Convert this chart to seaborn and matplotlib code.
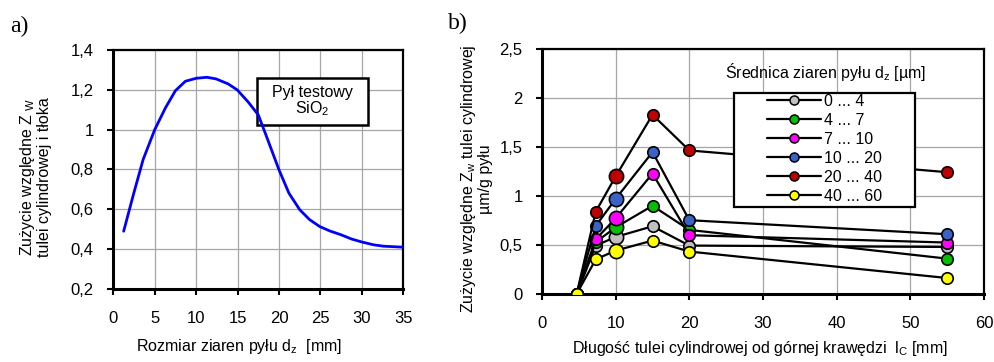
import numpy as np
import pandas as pd
import matplotlib
matplotlib.use("Agg")
import matplotlib.pyplot as plt
from matplotlib.lines import Line2D
from matplotlib.patches import Rectangle
import seaborn as sns

# ---------------- data ----------------
# panel a) relative wear vs grain size
grain_size = [1.25, 2.4, 3.6, 5.0, 6.3, 7.5, 8.7, 10.0, 11.3, 12.4, 13.85, 14.95,
              16.3, 17.5, 18.5, 20.0, 21.2, 22.5, 23.7, 24.9, 26.1, 27.5, 28.75,
              30.0, 31.4, 32.6, 35.0]
wear_a = [0.49, 0.67, 0.85, 1.00, 1.11, 1.196, 1.243, 1.258, 1.263, 1.255, 1.23,
          1.20, 1.138, 1.074, 0.965, 0.798, 0.681, 0.598, 0.548, 0.514, 0.492,
          0.472, 0.451, 0.436, 0.422, 0.415, 0.41]
a_xticks = [0, 5, 10, 15, 20, 25, 30, 35]
a_yticks = [0.2, 0.4, 0.6, 0.8, 1.0, 1.2, 1.4]
a_yticklabels = ["0,2", "0,4", "0,6", "0,8", "1", "1,2", "1,4"]

# panel b) relative wear vs distance from top edge
length_lc = [4.7, 7.3, 10, 15, 20, 55]
series_labels = ["0 ... 4", "4 ... 7", "7 ... 10", "10 ... 20", "20 ... 40", "40 ... 60"]
wear_0_4 = [0.0, 0.494, 0.582, 0.691, 0.494, 0.48]
wear_4_7 = [0.0, 0.53, 0.68, 0.90, 0.654, 0.361]
wear_7_10 = [0.0, 0.559, 0.773, 1.229, 0.60, 0.525]
wear_10_20 = [0.0, 0.695, 0.971, 1.448, 0.753, 0.61]
wear_20_40 = [0.0, 0.841, 1.20, 1.829, 1.465, 1.243]
wear_40_60 = [0.0, 0.354, 0.443, 0.545, 0.433, 0.163]
b_xticks = [0, 10, 20, 30, 40, 50, 60]
b_yticks = [0, 0.5, 1.0, 1.5, 2.0, 2.5]
b_yticklabels = ["0", "0,5", "1", "1,5", "2", "2,5"]

series_values = [wear_0_4, wear_4_7, wear_7_10, wear_10_20, wear_20_40, wear_40_60]
series_colors = ["#c0c0c0", "#00c000", "#ff00ff", "#3b63c6", "#c00000", "#ffff00"]

# ---------------- style ----------------
sns.set_theme(style="white")
plt.rcParams["font.family"] = ["Liberation Sans", "DejaVu Sans"]
plt.rcParams["mathtext.fontset"] = "custom"
plt.rcParams["mathtext.rm"] = "Liberation Sans"
plt.rcParams["mathtext.it"] = "Liberation Sans:italic"
plt.rcParams["mathtext.default"] = "regular"

FS = 11.5
TFS = 12
fig = plt.figure(figsize=(9.94, 3.62), dpi=100)
axa = fig.add_axes([113.3 / 994, 1 - 289 / 362, (403.3 - 113.3) / 994, (289 - 50) / 362])
axb = fig.add_axes([542 / 994, 1 - 294 / 362, (984 - 542) / 994, (294 - 49) / 362])

def style_axes(ax):
    ax.grid(True, color="#a6a6a6", lw=0.9)
    ax.set_axisbelow(True)
    for s in ax.spines.values():
        s.set_visible(True)
        s.set_color("black")
        s.set_linewidth(1.6)
    ax.spines["left"].set_linewidth(2.2)
    ax.spines["bottom"].set_linewidth(2.2)
    ax.tick_params(axis="both", which="major", direction="out", length=4,
                   width=1.5, color="black", labelsize=TFS, labelcolor="black")
    ax.tick_params(axis="x", pad=12, bottom=True)
    ax.tick_params(axis="y", pad=10, left=True)

# ---------------- panel a ----------------
sns.lineplot(x=grain_size, y=wear_a, ax=axa, color="#0000ff", lw=2.0,
             sort=False, estimator=None, zorder=5)
axa.set_xlim(0, 35)
axa.set_ylim(0.2, 1.4)
axa.set_xticks(a_xticks)
axa.set_xticklabels([str(t) for t in a_xticks])
axa.set_yticks(a_yticks)
axa.set_yticklabels(a_yticklabels)
style_axes(axa)
axa.set_xlabel("Rozmiar ziaren pyłu d$_z$  [mm]", fontsize=FS, color="black")
axa.xaxis.set_label_coords(0.435, -0.2)
axa.set_ylabel("Zużycie względne Z $_{W}$\ntulei cylindrowej i tłoka",
               fontsize=FS, color="black", linespacing=1.0)
axa.yaxis.set_label_coords(-0.21, 0.47)

axa.add_patch(Rectangle((0.495, 0.686), 0.384, 0.197, transform=axa.transAxes,
                        facecolor="white", edgecolor="black", lw=1.8, zorder=4))
axa.text(0.687, 0.785, "Pył testowy\nSiO$_2$", transform=axa.transAxes,
         ha="center", va="center", fontsize=FS, color="black", zorder=6,
         linespacing=1.0)

# ---------------- panel b ----------------
is_big = np.array(length_lc) == 10
for i, (vals, col) in enumerate(zip(series_values, series_colors)):
    z = 3 + i
    sns.lineplot(x=length_lc, y=vals, ax=axb, color="black", lw=1.6,
                 sort=False, estimator=None, zorder=z)
    xv = np.array(length_lc)
    yv = np.array(vals)
    sns.scatterplot(x=xv[~is_big], y=yv[~is_big], ax=axb, color=col, s=68,
                    edgecolor="black", linewidth=1.2, zorder=z + 0.5)
    sns.scatterplot(x=xv[is_big], y=yv[is_big], ax=axb, color=col, s=105,
                    edgecolor="black", linewidth=1.2, zorder=z + 0.5)

axb.set_xlim(0, 60)
axb.set_ylim(0, 2.5)
axb.set_xticks(b_xticks)
axb.set_xticklabels([str(t) for t in b_xticks])
axb.set_yticks(b_yticks)
axb.set_yticklabels(b_yticklabels)
style_axes(axb)
axb.set_xlabel("Długość tulei cylindrowej od górnej krawędzi  l$_C$ [mm]",
               fontsize=FS, color="black")
axb.xaxis.set_label_coords(0.494, -0.185)
axb.set_ylabel("Zużycie względne Z$_w$ tulei cylindrowej\nµm/g pyłu",
               fontsize=FS, color="black", linespacing=1.0)
axb.yaxis.set_label_coords(-0.11, 0.47)

axb.add_patch(Rectangle((0.434, 0.355), 0.411, 0.465, transform=axb.transAxes,
                        facecolor="white", edgecolor="black", lw=1.6, zorder=20))
handles = [Line2D([0], [0], color="black", lw=1.6, marker="o", markersize=6.5,
                  markerfacecolor=c, markeredgecolor="black", markeredgewidth=1.1)
           for c in series_colors]
leg = axb.legend(handles, series_labels, loc="upper left",
                 bbox_to_anchor=(0.509, 0.818), frameon=False, borderpad=0,
                 borderaxespad=0, handlelength=3.4, handletextpad=0.2,
                 labelspacing=0.25, fontsize=FS)
leg.set_zorder(21)
for t in leg.get_texts():
    t.set_color("black")
axb.text(0.641, 0.906, "Średnica ziaren pyłu d$_z$ [µm]", transform=axb.transAxes,
         ha="center", va="center", fontsize=FS, color="black", zorder=22)

# panel letters
fig.text(0.0196, 0.927, "a)", family="Liberation Serif", fontsize=17,
         ha="center", va="center", color="black")
fig.text(0.4608, 0.934, "b)", family="Liberation Serif", fontsize=17,
         ha="center", va="center", color="black")

fig.savefig("out.png", dpi=100)
